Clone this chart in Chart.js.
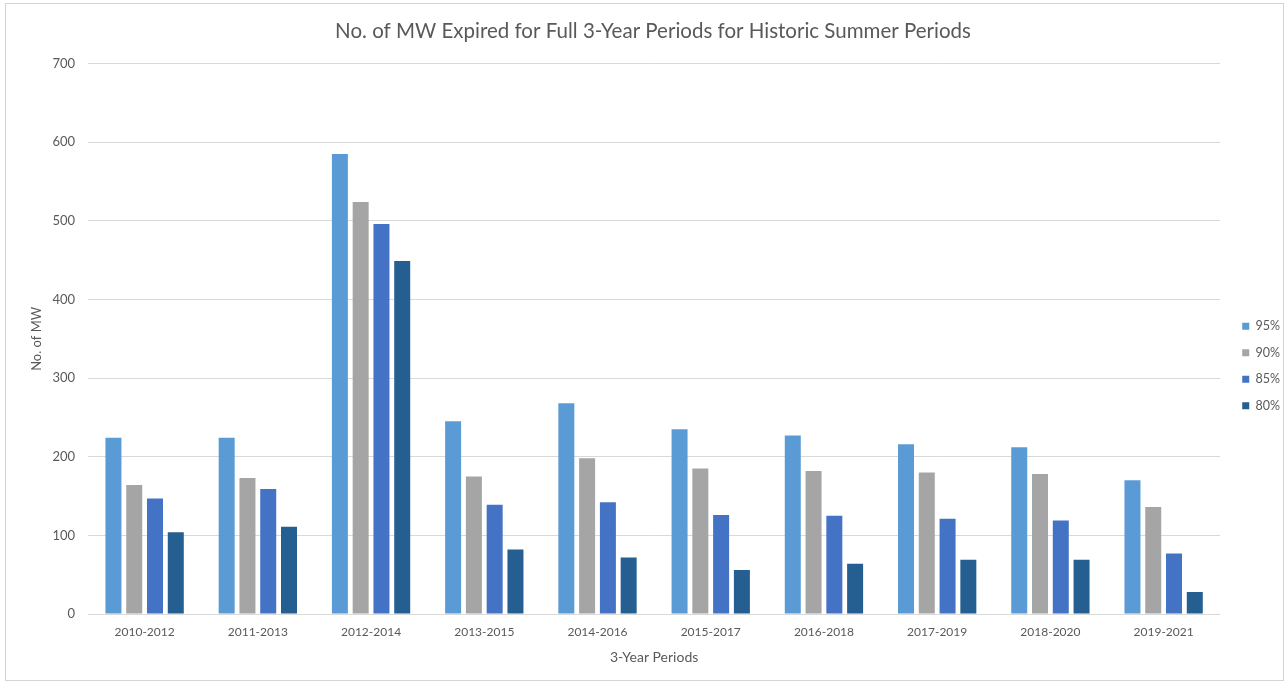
<!DOCTYPE html>
<html>
<head>
<meta charset="utf-8">
<script src="https://cdn.jsdelivr.net/npm/chart.js@4/dist/chart.umd.min.js"></script>
<style>
	html, body { margin: 0; padding: 0; background: #fff; }
	#caja { position: relative; width: 1285px; height: 682px; }
	#marco { position: absolute; left: 5px; top: 3px; width: 1277px; height: 676px; border: 1px solid #d4d4d4; pointer-events: none; }
</style>
</head>
<body>
<div id="caja">
	<canvas id="grafico" width="1285" height="682"></canvas>
	<div id="marco"></div>
</div>
<script>
var periodos = ["2010-2012", "2011-2013", "2012-2014", "2013-2015", "2014-2016", "2015-2017", "2016-2018", "2017-2019", "2018-2020", "2019-2021"];
var serie95 = [224, 224, 585, 245, 268, 235, 227, 216, 212, 170];
var serie90 = [164, 173, 524, 175, 198, 185, 182, 180, 178, 136];
var serie85 = [147, 159, 496, 139, 142, 126, 125, 121, 119, 77];
var serie80 = [104, 111, 449, 82, 72, 56, 64, 69, 69, 28];
var nombres = ["95%", "90%", "85%", "80%"];
var colores = ["#5b9bd5", "#a5a5a5", "#4472c4", "#255e91"];

var gris = "#595959";
Chart.defaults.font.family = "Lato, 'Open Sans', sans-serif";
Chart.defaults.color = gris;

function serie(i, valores)
{
	return {
		label: nombres[i],
		data: valores,
		backgroundColor: colores[i],
		borderWidth: 0,
		categoryPercentage: 0.734,
		barPercentage: 0.77
	};
}

// mueve titulo y leyenda un poco, como en el original
var ajuste = {
	id: 'ajuste',
	afterLayout: function(chart) {
		var t = chart.titleBlock;
		if (t) { t.left += 12; t.right += 12; }
		var l = chart.legend;
		if (l) { l.left += 8; l.right += 8; l.top += 25; l.bottom += 25; }
	}
};

var ctx = document.getElementById("grafico");
var miGrafico = new Chart(ctx, {
	type: 'bar',
	data: {
		labels: periodos,
		datasets: [serie(0, serie95), serie(1, serie90), serie(2, serie85), serie(3, serie80)]
	},
	plugins: [ajuste],
	options: {
		responsive: false,
		animation: false,
		layout: { padding: { left: 0, right: 3, top: 0, bottom: 0 } },
		plugins: {
			title: {
				display: true,
				text: "No. of MW Expired for Full 3-Year Periods for Historic Summer Periods",
				color: gris,
				font: { size: 20.5, weight: 'normal' },
				padding: { top: 19, bottom: 20 }
			},
			legend: {
				position: 'right',
				labels: {
					boxWidth: 7,
					boxHeight: 7,
					padding: 14,
					color: gris,
					font: { size: 12.5 }
				}
			},
			tooltip: { enabled: false }
		},
		scales: {
			x: {
				grid: { display: false, drawTicks: false },
				border: { display: false },
				ticks: { padding: 11, color: gris, font: { size: 12 }, maxRotation: 0 },
				title: { display: true, text: "3-Year Periods", color: gris, font: { size: 14 }, padding: { top: 4, bottom: 16 } },
				afterFit: function(escala) { escala.height = 68; }
			},
			y: {
				min: 0,
				max: 700,
				ticks: { stepSize: 100, padding: 13, color: gris, font: { size: 13 } },
				grid: { color: "#d9d9d9", drawTicks: false },
				border: { display: false },
				title: { display: true, text: "No. of MW", color: gris, font: { size: 13 }, padding: { top: 29, bottom: 0 } },
				afterFit: function(escala) { escala.width = 88; }
			}
		}
	}
});
</script>
</body>
</html>
